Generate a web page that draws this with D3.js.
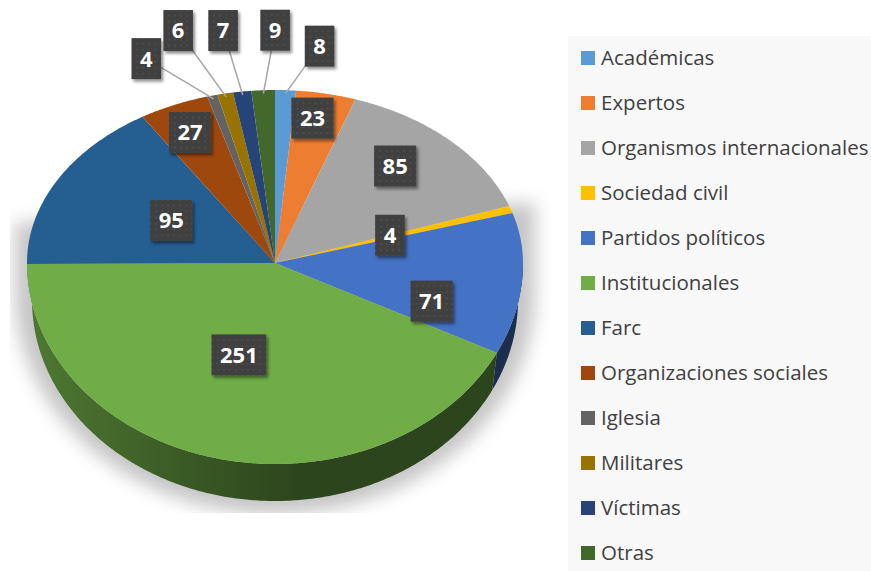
<!DOCTYPE html>
<html>
<head>
<meta charset="utf-8">
<script src="https://cdn.jsdelivr.net/npm/d3@7"></script>
<style>
  body { margin: 0; background: #fff; }
  svg { display: block; }
</style>
</head>
<body>
<svg id="chart"></svg>
<script>
const categories = ['Académicas', 'Expertos', 'Organismos internacionales', 'Sociedad civil',
    'Partidos políticos', 'Institucionales', 'Farc', 'Organizaciones sociales',
    'Iglesia', 'Militares', 'Víctimas', 'Otras'];
const values = [8, 23, 85, 4, 71, 251, 95, 27, 4, 6, 7, 9];
const colors = ['#5B9BD5', '#ED7D31', '#A5A5A5', '#FFC000', '#4472C4', '#70AD47',
    '#255E91', '#9E480E', '#636363', '#997300', '#264478', '#43682B'];

const width = 871, height = 571;
// 3d pie geometry (top is squashed more than the front, like excel perspective)
const cx = 275, cy = 263, rx = 248, ryTop = 173, ryBot = 201, depth = 37;

// label placement: [radius fraction, dx, dy] - like excel's best fit / dragged labels
const labelLayout = [
    [1, 34, -44], [0.85, -6, -1], [0.75, -11, -5], [0.5, -3, -1],
    [0.65, -4, 27], [0.5, -8, -6], [0.5, 5, -1], [0.82, -2, -1],
    [1, -66, -37], [1, -47, -63], [1, -19, -61], [1, 12, -60]
];

const project = (a, f = 1, dy = 0, shrink = 0) => {
    const c = Math.cos(a);
    return [cx + (rx - shrink) * f * Math.sin(a), cy - f * c * (c > 0 ? ryTop : ryBot) + dy];
};
const arcPoints = (a0, a1, dy = 0, shrink = 0) => {
    const n = Math.max(2, Math.ceil((a1 - a0) / 0.01));
    return d3.range(n + 1).map(i => project(a0 + (a1 - a0) * i / n, 1, dy, shrink));
};
const line = d3.line();

const svg = d3.select('#chart')
    .attr('width', width)
    .attr('height', height);

const defs = svg.append('defs');

defs.append('filter')
        .attr('id', 'blur')
        .attr('x', '-20%').attr('y', '-20%').attr('width', '140%').attr('height', '140%')
    .append('feGaussianBlur')
        .attr('stdDeviation', 9);

const shadowF = defs.append('filter')
    .attr('id', 'boxShadow')
    .attr('x', '-30%').attr('y', '-30%').attr('width', '160%').attr('height', '160%');
shadowF.append('feDropShadow')
    .attr('dx', 2).attr('dy', 2.5)
    .attr('stdDeviation', 1.5)
    .attr('flood-color', '#000')
    .attr('flood-opacity', 0.45);

const pat = defs.append('pattern')
    .attr('id', 'dots')
    .attr('patternUnits', 'userSpaceOnUse')
    .attr('width', 6).attr('height', 6);
pat.append('rect').attr('width', 6).attr('height', 6).attr('fill', '#3f3f3f');
pat.append('circle').attr('cx', 3).attr('cy', 3).attr('r', 0.8).attr('fill', '#5c5c5c');

defs.append('clipPath')
        .attr('id', 'shadowClip')
    .append('rect')
        .attr('x', 10).attr('y', 0)
        .attr('width', 540).attr('height', 513);

// soft shadow under the pie
const shadowPts = [[cx - rx - 12, cy - 40], [cx + rx + 12, cy - 60]]
    .concat(d3.range(0, 61).map(i => {
        const a = Math.PI / 2 + Math.PI * i / 60;
        return [cx + (rx + 12) * Math.sin(a), cy + 30 - Math.cos(a) * (ryBot + 20)];
    }));
svg.append('g')
        .attr('clip-path', 'url(#shadowClip)')
    .append('path')
        .attr('d', line(shadowPts) + 'Z')
        .attr('fill', '#8c8c8c')
        .attr('opacity', 0.5)
        .attr('filter', 'url(#blur)');

const pie = d3.pie()
    .sort(null)
    .value(d => d);
const arcs = pie(values);

// side walls (only the front half is visible)
arcs.forEach((d, i) => {
    const a0 = Math.max(d.startAngle, Math.PI / 2);
    const a1 = Math.min(d.endAngle, Math.PI * 1.5);
    if (a1 <= a0) return;

    const g = defs.append('linearGradient')
        .attr('id', 'side' + i)
        .attr('gradientUnits', 'userSpaceOnUse')
        .attr('x1', cx - rx).attr('x2', cx + rx)
        .attr('y1', 0).attr('y2', 0);
    const shade = t => d3.interpolateRgb(colors[i], '#000')(t);
    g.append('stop').attr('offset', 0).attr('stop-color', shade(0.3));
    g.append('stop').attr('offset', 0.35).attr('stop-color', shade(0.5));
    g.append('stop').attr('offset', 0.55).attr('stop-color', shade(0.6));
    g.append('stop').attr('offset', 1).attr('stop-color', shade(0.6));

    const pts = arcPoints(a0, a1).concat(arcPoints(a0, a1, depth, 5).reverse());
    svg.append('path')
        .attr('class', 'side')
        .attr('d', line(pts) + 'Z')
        .attr('fill', `url(#side${i})`);
});

// top face
svg.append('g')
    .selectAll('path.sector')
    .data(arcs)
    .join('path')
        .attr('class', 'sector')
        .attr('d', d => line([[cx, cy]].concat(arcPoints(d.startAngle, d.endAngle))) + 'Z')
        .attr('fill', (d, i) => colors[i]);

// data labels
const labels = svg.append('g')
    .selectAll('g.label')
    .data(arcs)
    .join('g')
        .attr('class', 'label');

labels.each(function (d, i) {
    const [f, dx, dy] = labelLayout[i];
    const mid = (d.startAngle + d.endAngle) / 2;
    const [ax, ay] = project(mid, f);
    const x = ax + dx, y = ay + dy;
    const sel = d3.select(this);

    if (f >= 1) {
        const [ex, ey] = project(mid, 0.98);
        sel.append('line')
            .attr('x1', x).attr('y1', y)
            .attr('x2', ex).attr('y2', ey)
            .attr('stroke', '#a6a6a6')
            .attr('stroke-width', 1.5);
    }

    const box = sel.append('g')
        .attr('transform', `translate(${x},${y})`);
    const rect = box.append('rect');
    const txt = box.append('text')
        .attr('text-anchor', 'middle')
        .attr('dy', '0.36em')
        .attr('fill', '#fff')
        .style('font-family', '"Open Sans", sans-serif')
        .style('font-weight', 'bold')
        .style('font-size', '22px')
        .text(d.data);
    const w = txt.node().getComputedTextLength() + 17;
    rect.attr('x', -w / 2).attr('y', -20.5)
        .attr('width', w).attr('height', 41)
        .attr('fill', 'url(#dots)')
        .attr('filter', 'url(#boxShadow)');
});

// legend
const legend = svg.append('g');
legend.append('rect')
    .attr('x', 568).attr('y', 36)
    .attr('width', width - 568).attr('height', height - 36)
    .attr('fill', '#f8f8f8');

const item = legend.selectAll('g.item')
    .data(categories)
    .join('g')
        .attr('class', 'item')
        .attr('transform', (d, i) => `translate(581, ${58 + i * 45})`);
item.append('rect')
    .attr('y', -7)
    .attr('width', 14).attr('height', 14)
    .attr('fill', (d, i) => colors[i]);
item.append('text')
    .attr('x', 20)
    .attr('dy', '0.35em')
    .attr('fill', '#404040')
    .style('font-family', '"Open Sans", sans-serif')
    .style('font-size', '20.5px')
    .text(d => d);
</script>
</body>
</html>
